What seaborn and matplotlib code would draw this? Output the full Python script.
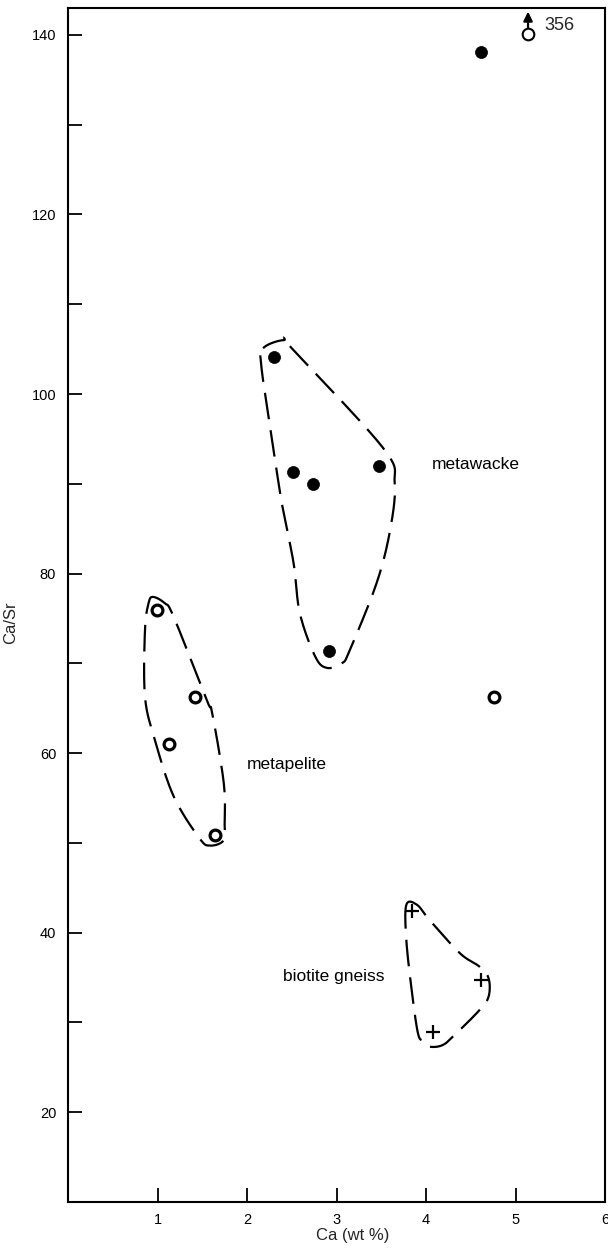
import numpy as np
import pandas as pd
import matplotlib
matplotlib.use("Agg")
import matplotlib.pyplot as plt
import seaborn as sns

# ---- data ----
wacke_ca = [2.30, 2.51, 2.74, 3.48, 2.92, 4.61]
wacke_ratio = [104.1, 91.3, 90.0, 92.0, 71.4, 138.1]

pelite_ca = [0.99, 1.42, 1.13, 1.64, 4.76]
pelite_ratio = [75.9, 66.2, 61.0, 50.9, 66.2]

gneiss_ca = [3.84, 4.62, 4.08]
gneiss_ratio = [42.4, 34.7, 28.9]

off_ca = [5.14]          # off-scale sample, value 356
off_ratio = [140.1]
off_label = "356"

# field envelopes (hand-drawn outlines)
wacke_env_x = [2.18, 2.41, 2.50, 3.52, 3.65, 3.60, 3.45, 3.15, 3.06, 2.89, 2.76, 2.59, 2.52, 2.39, 2.28, 2.16]
wacke_env_y = [105.1, 106.0, 105.1, 94.0, 90.1, 84.9, 79.0, 71.5, 70.0, 69.5, 70.8, 75.6, 81.2, 87.8, 94.9, 103.1]
pelite_env_x = [0.95, 1.08, 1.18, 1.55, 1.61, 1.74, 1.75, 1.74, 1.59, 1.47, 1.18, 0.97, 0.86, 0.86, 0.90]
pelite_env_y = [77.4, 76.7, 75.2, 65.9, 64.5, 56.7, 52.2, 50.3, 49.7, 50.5, 55.2, 61.5, 66.3, 73.7, 76.7]
gneiss_env_x = [3.78, 3.90, 4.04, 4.38, 4.60, 4.70, 4.70, 4.60, 4.34, 4.19, 4.04, 3.97, 3.91, 3.84, 3.78]
gneiss_env_y = [43.1, 43.1, 41.4, 37.7, 36.2, 34.9, 32.9, 31.4, 28.8, 27.5, 27.3, 27.9, 28.8, 33.6, 39.2]

field_labels = ["metawacke", "metapelite", "biotite gneiss"]
field_label_x = [4.07, 2.00, 2.40]
field_label_y = [92.1, 58.7, 35.1]

xticks = [1, 2, 3, 4, 5, 6]
yticks_major = [20, 40, 60, 80, 100, 120, 140]
yticks_minor = [30, 50, 70, 90, 110, 130]


def closed_catmull(xs, ys, n=20):
    p = np.column_stack([xs, ys])
    m = len(p)
    out = []
    for i in range(m):
        p0, p1, p2, p3 = p[(i - 1) % m], p[i], p[(i + 1) % m], p[(i + 2) % m]
        for t in np.linspace(0, 1, n, endpoint=False):
            t2, t3 = t * t, t * t * t
            pt = 0.5 * ((2 * p1) + (-p0 + p2) * t + (2 * p0 - 5 * p1 + 4 * p2 - p3) * t2
                        + (-p0 + 3 * p1 - 3 * p2 + p3) * t3)
            out.append(pt)
    out.append(out[0])
    out = np.array(out)
    return out[:, 0], out[:, 1]


sns.set_theme(style="white")
plt.rcParams['font.family'] = ['Liberation Sans', 'DejaVu Sans']

fig = plt.figure(figsize=(6.08, 12.49), dpi=100)
ax = fig.add_axes([68 / 608, 47 / 1249, (605 - 68) / 608, (1202 - 8) / 1249])

df_w = pd.DataFrame({"Ca": wacke_ca, "Ratio": wacke_ratio})
df_p = pd.DataFrame({"Ca": pelite_ca, "Ratio": pelite_ratio})
df_g = pd.DataFrame({"Ca": gneiss_ca, "Ratio": gneiss_ratio})
df_o = pd.DataFrame({"Ca": off_ca, "Ratio": off_ratio})

sns.scatterplot(data=df_w, x="Ca", y="Ratio", ax=ax, marker="o", s=75,
                color="black", edgecolor="black", linewidth=0.5, zorder=5)
sns.scatterplot(data=df_p, x="Ca", y="Ratio", ax=ax, marker="o", s=60,
                facecolor="white", edgecolor="black", linewidth=2.3, zorder=5)
sns.scatterplot(data=df_g, x="Ca", y="Ratio", ax=ax, marker="+", s=110,
                color="black", linewidth=1.6, zorder=5)
sns.scatterplot(data=df_o, x="Ca", y="Ratio", ax=ax, marker="o", s=70,
                facecolor="white", edgecolor="black", linewidth=1.5, zorder=5)

for xs, ys in [(wacke_env_x, wacke_env_y), (pelite_env_x, pelite_env_y), (gneiss_env_x, gneiss_env_y)]:
    cx, cy = closed_catmull(xs, ys)
    ax.plot(cx, cy, color="black", lw=1.6, dashes=(12, 5), zorder=3)

for lab, lx, ly in zip(field_labels, field_label_x, field_label_y):
    ax.text(lx, ly, lab, fontsize=12.5, ha="left", va="center", color="black")

# off-scale arrow and label
ax.annotate("", xy=(off_ca[0], 142.6), xytext=(off_ca[0], off_ratio[0] + 0.75),
            arrowprops=dict(arrowstyle="-|>,head_length=0.45,head_width=0.22", color="black", lw=1.6,
                            mutation_scale=12, shrinkA=0, shrinkB=0), zorder=6)
ax.text(off_ca[0] + 0.18, 141.0, off_label, fontsize=13, ha="left", va="center")

ax.set_xlim(0, 6)
ax.set_ylim(10, 143)
ax.set_xticks(xticks)
ax.set_xticklabels([str(v) for v in xticks])
ax.set_yticks(yticks_major)
ax.set_yticklabels([str(v) for v in yticks_major])
ax.set_yticks(yticks_minor, minor=True)
ax.tick_params(axis="both", which="both", direction="in", length=10, width=1.3,
               color="black", labelsize=10.5, labelcolor="black")
ax.tick_params(axis="y", which="both", left=True, pad=8.5)
ax.tick_params(axis="x", which="both", bottom=True, pad=8)

for sp in ax.spines.values():
    sp.set_visible(True)
    sp.set_color("black")
    sp.set_linewidth(1.5)

ax.set_xlabel("Ca (wt %)", fontsize=12)
ax.xaxis.set_label_coords(0.53, -0.022)
ax.set_ylabel("Ca/Sr", fontsize=12)
ax.yaxis.set_label_coords(-0.093, 0.485)
ax.grid(False)

fig.savefig("out.png", dpi=100, facecolor="white")
